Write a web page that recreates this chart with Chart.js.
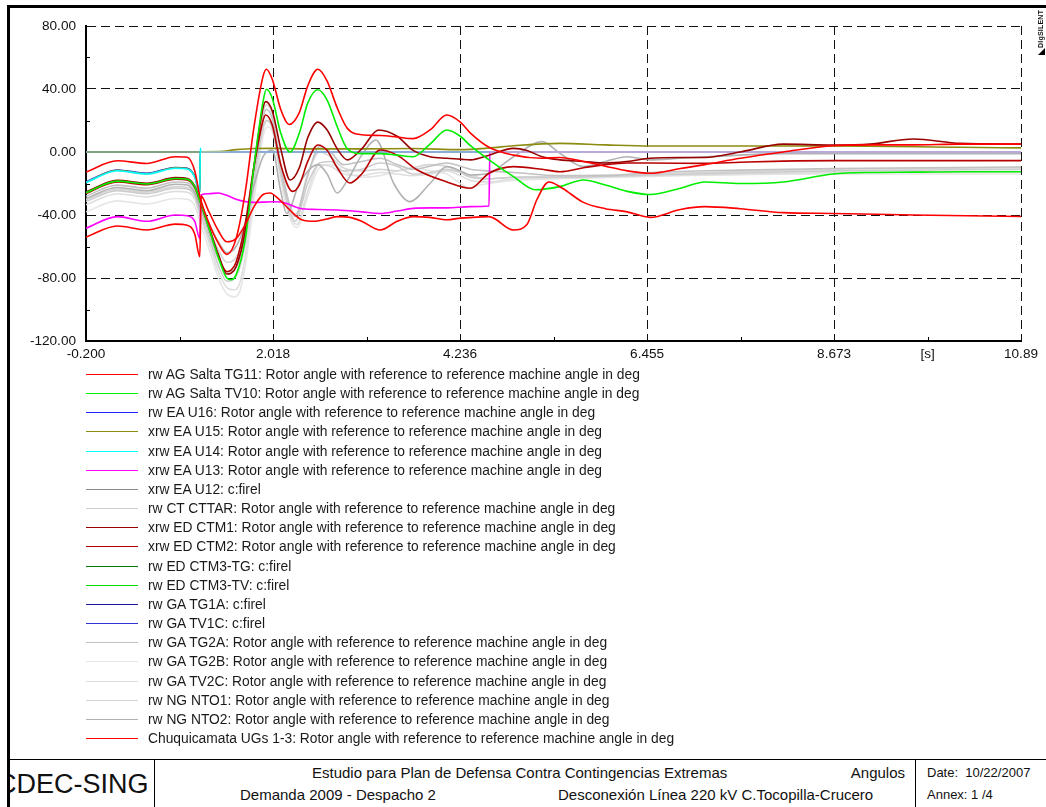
<!DOCTYPE html>
<html>
<head>
<meta charset="utf-8">
<title>Angulos</title>
<script src="https://cdn.jsdelivr.net/npm/chart.js@4.4.1/dist/chart.umd.min.js"></script>
<style>
html,body{margin:0;padding:0;background:#fff;}
body{width:1046px;height:807px;position:relative;overflow:hidden;font-family:"Liberation Sans",Arial,Helvetica,sans-serif;color:#111;}
#plot{position:absolute;left:0;top:0;}
.frameL{position:absolute;left:7px;top:5px;width:3px;height:802px;background:#000;z-index:5;}
.frameT{position:absolute;left:7px;top:5px;width:1039px;height:3px;background:#000;z-index:5;}
.logo{position:absolute;left:1037px;top:10px;writing-mode:vertical-rl;transform:rotate(180deg);font-size:7px;font-weight:bold;letter-spacing:0.2px;line-height:8px;}
.logoTri{position:absolute;left:1038px;top:48px;width:0;height:0;border-left:7px solid transparent;border-bottom:7px solid #000;}
.item{position:absolute;left:86px;height:19px;width:700px;}
.item .sw{position:absolute;left:0;top:9px;width:52px;height:1px;}
.item .tx{position:absolute;left:62px;top:0;white-space:nowrap;font-size:13.8px;line-height:19px;color:#1a1a1a;}
.ln{position:absolute;background:#000;}
.tb{position:absolute;white-space:nowrap;line-height:18px;}
.cdec{position:absolute;left:10px;top:760px;width:144px;height:47px;overflow:hidden;}
.cdec span{position:absolute;left:-13px;top:0;font-size:27px;line-height:48px;white-space:nowrap;}
</style>
</head>
<body>
<canvas id="plot" width="1046" height="366"></canvas>
<div id="legend"></div>
<div class="frameL"></div>
<div class="frameT"></div>
<div class="logo">DIgSILENT</div>
<div class="logoTri"></div>

<div class="ln" style="left:10px;top:759px;width:1036px;height:1px;"></div>
<div class="ln" style="left:154px;top:759px;width:1px;height:48px;"></div>
<div class="ln" style="left:915px;top:759px;width:1px;height:48px;"></div>
<div class="cdec"><span>CDEC-SING</span></div>
<div class="tb" style="left:312px;top:764px;font-size:15px;">Estudio para Plan de Defensa Contra Contingencias Extremas</div>
<div class="tb" style="right:141px;top:764px;font-size:15px;">Angulos</div>
<div class="tb" style="left:240px;top:786px;font-size:15px;">Demanda 2009 - Despacho 2</div>
<div class="tb" style="left:558px;top:786px;font-size:15px;">Desconexión Línea 220 kV C.Tocopilla-Crucero</div>
<div class="tb" style="left:927px;top:764px;font-size:13px;">Date:&nbsp; 10/22/2007</div>
<div class="tb" style="left:927px;top:786px;font-size:13px;">Annex: 1 /4</div>

<script>
// Rotor angles [deg] against time [s], one list of [t, angle] pairs per machine.
const saltaTG11 = [[-0.2,-12.7],[0.17,-5.6],[0.52,-7.3],[0.86,-3],[1.0,-3.3],[1.09,-12],[1.15,-28],[1.25,-44],[1.37,-58],[1.47,-65],[1.58,-55],[1.69,-25],[1.79,15],[1.9,48],[1.94,52.5],[2.01,46],[2.11,27],[2.21,17.5],[2.33,25],[2.43,42],[2.55,52.5],[2.66,45],[2.78,28],[2.9,15],[3.07,11],[3.29,10.5],[3.49,9.5],[3.68,8.5],[3.88,14],[4.08,23.5],[4.24,19],[4.36,12],[4.58,3],[4.87,-2],[5.21,-4],[5.42,-3.5],[5.7,-6],[5.96,-9],[6.22,-12],[6.49,-13.5],[6.85,-10.5],[7.14,-8],[7.56,-4],[8.07,0],[8.66,4],[9.1,4.5],[9.61,4.5],[10.17,5],[10.89,5]];
const saltaTV10 = [[-0.2,-25.8],[0.17,-18.5],[0.52,-20.3],[0.86,-16.8],[1.0,-17.3],[1.09,-22],[1.15,-31],[1.25,-47],[1.37,-67],[1.47,-80],[1.52,-81],[1.58,-78],[1.69,-55],[1.79,-10],[1.9,32],[1.94,39.8],[2.01,34],[2.11,12],[2.22,0],[2.33,12],[2.43,31],[2.55,39.5],[2.66,33],[2.78,16],[2.9,2],[3.07,-1],[3.29,-1],[3.49,-2],[3.68,-3],[3.88,5],[4.08,14],[4.24,10],[4.36,4],[4.58,-5],[4.87,-15.6],[5.13,-24],[5.42,-22],[5.7,-17.8],[5.96,-21],[6.22,-25],[6.49,-27],[6.85,-23],[7.14,-19],[7.56,-20],[8.07,-19],[8.66,-14],[9.1,-13],[9.61,-12.8],[10.17,-12.5],[10.89,-12.5]];
const eaU16 = [[-0.2,-19],[0.17,-11.4],[0.52,-13.5],[0.86,-9.8],[1.0,-10.3],[1.09,-15.5],[1.15,-25.5],[1.155,0],[10.89,0]];
const eaU15 = [[-0.2,-19.2],[0.17,-11.6],[0.52,-13.7],[0.86,-10],[1.0,-10.5],[1.09,-15.7],[1.15,-25.7],[1.155,0],[1.37,0.3],[1.58,1.5],[1.79,2.2],[2.01,2.3],[2.43,2],[3.07,2],[3.68,2.2],[4.24,1.5],[4.58,2.5],[4.87,4],[5.42,5.5],[5.96,4.5],[6.49,3.8],[8.66,3.8],[10.17,3],[10.89,2.6]];
const eaU14 = [[-0.2,-19.5],[0.17,-11.9],[0.52,-14],[0.86,-10.3],[1.0,-10.8],[1.09,-16],[1.15,-26],[1.155,2.5],[1.165,0],[10.89,0]];
const eaU13 = [[-0.2,-48.4],[0.17,-41],[0.52,-44],[0.86,-40],[1.0,-40.5],[1.09,-44],[1.15,-55],[1.165,-27.3],[1.25,-26.5],[1.37,-26],[1.47,-27.5],[1.58,-30],[1.69,-31.5],[1.79,-32],[2.01,-31.6],[2.11,-31.7],[2.22,-33.5],[2.33,-35.7],[2.55,-36.5],[2.78,-36.8],[3.07,-38],[3.29,-39],[3.49,-37.5],[3.68,-35.8],[3.88,-35.5],[4.08,-35.5],[4.36,-34.7],[4.58,-34.3],[4.59,0],[10.89,0]];
const eaU12 = [[-0.2,0],[10.89,0]];
const ctCTTAR = [[-0.2,-31.5],[0.17,-24.5],[0.52,-26.5],[0.86,-23],[1.0,-23.5],[1.09,-28],[1.15,-38],[1.25,-53],[1.37,-72],[1.47,-82],[1.58,-79],[1.69,-58],[1.79,-20],[1.9,16],[1.94,20],[2.01,15],[2.11,-14],[2.22,-38],[2.28,-44],[2.43,-20],[2.57,-7],[2.7,-6],[2.85,-12],[3.07,-11],[3.29,-7],[3.49,-9],[3.68,-14],[3.88,-13],[4.08,-11],[4.24,-13],[4.36,-16],[4.58,-17],[4.87,-16],[5.42,-16],[6.49,-14.5],[8.66,-12],[10.89,-11]];
const edCTM1 = [[-0.2,-25.3],[0.17,-18],[0.52,-19.8],[0.86,-16.3],[1.0,-16.8],[1.09,-21.5],[1.15,-30],[1.25,-46],[1.37,-65],[1.47,-77.5],[1.52,-77],[1.58,-73],[1.69,-50],[1.79,-10],[1.9,28],[1.93,32],[2.01,26],[2.11,2],[2.22,-17.8],[2.33,-10],[2.43,9],[2.55,19],[2.66,14],[2.78,2],[2.9,-5],[3.07,2],[3.27,14],[3.49,10],[3.68,1],[3.88,-3],[4.08,-4],[4.24,-4.5],[4.36,-5],[4.58,-2],[4.87,2.3],[5.03,1],[5.21,-3],[5.42,-5],[5.7,-6],[5.96,-7],[6.22,-6],[6.49,-4],[6.85,-3.5],[7.14,-3.5],[7.56,0],[8.07,5],[8.66,4.4],[9.1,5],[9.61,8.3],[10.17,5.5],[10.89,5]];
const edCTM2 = [[-0.2,-26.3],[0.17,-19],[0.52,-20.8],[0.86,-17.3],[1.0,-17.8],[1.09,-22.5],[1.15,-31],[1.25,-47],[1.37,-66],[1.47,-76],[1.52,-75],[1.58,-70],[1.69,-45],[1.79,-10],[1.9,20],[1.93,23.5],[2.01,17],[2.11,-8],[2.25,-25],[2.33,-21],[2.43,-6],[2.55,4.4],[2.66,1],[2.78,-10],[2.93,-19.7],[3.07,-14],[3.29,1.3],[3.49,-2],[3.73,-11.4],[4.08,-19],[4.36,-23],[4.58,-13.5],[4.87,-9.3],[5.21,-11],[5.42,-12.5],[5.7,-10],[5.96,-8],[6.22,-7],[6.49,-7],[7.14,-7.2],[7.56,-6.5],[8.07,-5.8],[8.66,-5.5],[10.89,-5.5]];
const edCTM3TG = [[-0.2,0],[10.89,0]];
const edCTM3TV = [[-0.2,0],[10.89,0]];
const gaTG1A = [[-0.2,0],[10.89,0]];
const gaTV1C = [[-0.2,0],[10.89,0]];
const gaTG2A = [[-0.2,-28],[0.17,-21],[0.52,-23],[0.86,-19],[1.0,-19.5],[1.09,-24],[1.15,-34],[1.25,-50],[1.37,-68],[1.47,-76],[1.58,-73],[1.69,-52],[1.79,-14],[1.9,22],[1.94,27],[2.01,21],[2.11,-10],[2.22,-35],[2.28,-41],[2.43,-15],[2.57,3.4],[2.7,0],[2.85,-8],[3.07,-6],[3.29,-4],[3.49,-8],[3.68,-11],[3.88,-9],[4.08,-7],[4.24,-9],[4.36,-11],[4.58,-12],[4.87,-13],[5.42,-15],[5.96,-15],[6.49,-13],[7.56,-11.5],[8.66,-10.5],[10.89,-9.5]];
const gaTG2B = [[-0.2,-38],[0.17,-31],[0.52,-33],[0.86,-29.5],[1.0,-30],[1.09,-34],[1.15,-44],[1.25,-60],[1.37,-80],[1.47,-90],[1.55,-92],[1.62,-89],[1.69,-72],[1.79,-32],[1.9,10],[1.96,16],[2.03,10],[2.11,-18],[2.22,-42],[2.3,-48],[2.43,-28],[2.57,-10],[2.7,-8],[2.85,-12],[3.07,-16],[3.29,-15],[3.49,-12],[3.68,-10],[3.88,-12],[4.08,-14],[4.24,-20],[4.36,-23],[4.47,-21],[4.58,-20],[4.87,-18],[5.42,-17],[6.49,-15.5],[8.66,-14],[10.89,-14]];
const gaTV2C = [[-0.2,-33.5],[0.17,-26.5],[0.52,-28.5],[0.86,-25],[1.0,-25.5],[1.09,-30],[1.15,-40],[1.25,-56],[1.37,-76],[1.47,-86],[1.55,-87.5],[1.62,-84],[1.69,-66],[1.79,-25],[1.9,14],[1.95,20],[2.03,14],[2.11,-14],[2.22,-40],[2.3,-46],[2.43,-25],[2.57,-8],[2.7,-9],[2.85,-14],[3.07,-15],[3.29,-13],[3.49,-14],[3.68,-15],[3.88,-14],[4.08,-12],[4.24,-15],[4.36,-18],[4.58,-19],[4.87,-17],[5.42,-16.5],[6.49,-15],[8.66,-13],[10.89,-12.5]];
const ngNTO1 = [[-0.2,-30.5],[0.17,-23.5],[0.52,-25.5],[0.86,-22],[1.0,-22.5],[1.09,-27],[1.15,-36],[1.25,-48],[1.37,-62],[1.47,-70],[1.58,-67],[1.69,-48],[1.79,-10],[1.9,25],[1.94,30],[2.01,24],[2.11,-8],[2.22,-34],[2.28,-40],[2.43,-14],[2.57,0],[2.7,-3],[2.85,-10],[3.07,-12],[3.29,-11],[3.49,-12],[3.68,-10],[3.88,-8],[4.08,-9],[4.24,-12],[4.36,-15],[4.58,-17],[4.87,-16],[5.42,-15.5],[6.49,-14],[8.66,-11],[10.89,-10]];
const ngNTO2 = [[-0.2,-29.5],[0.17,-22.5],[0.52,-24.5],[0.86,-20.5],[1.0,-21],[1.09,-26],[1.15,-35],[1.25,-45],[1.37,-57],[1.47,-64],[1.58,-60],[1.69,-45],[1.79,-22],[1.9,-3],[2.01,1.3],[2.11,-25],[2.18,-39],[2.33,-20],[2.55,-8],[2.66,-14],[2.78,-26],[2.9,-18],[3.07,-2],[3.24,7.6],[3.45,-20],[3.64,-31.5],[3.88,-20],[4.08,-9.3],[4.24,-12],[4.36,-14.6],[4.58,-13.5],[4.87,-3],[5.21,6.6],[5.42,-0.8],[5.7,-9.3],[5.96,-6],[6.22,-3],[6.49,-5],[6.85,-4],[7.56,-2],[8.07,-1],[10.89,-1]];
const chuquicamata = [[-0.2,-54],[0.17,-47],[0.52,-49.5],[0.86,-45.8],[1.0,-46.5],[1.09,-52],[1.15,-66.5],[1.165,-28],[1.25,-37],[1.37,-50],[1.47,-57],[1.58,-55],[1.69,-46],[1.79,-35],[1.9,-27],[1.98,-26],[2.11,-31],[2.22,-37],[2.36,-43],[2.52,-44],[2.66,-42.5],[2.78,-41],[2.93,-41.5],[3.07,-44],[3.29,-49.5],[3.49,-44],[3.68,-41],[3.88,-41.5],[4.08,-43],[4.24,-42],[4.58,-41],[4.87,-49.5],[5.03,-46],[5.15,-30],[5.29,-19],[5.45,-23],[5.7,-32],[5.96,-36],[6.22,-38],[6.49,-41.5],[6.85,-36.5],[7.14,-34.7],[7.56,-36],[8.07,-38.5],[8.66,-39],[9.61,-40],[10.89,-41]];

// Axis ticks
const xTickValues = [-0.2, 2.018, 4.236, 6.455, 8.673, 9.782, 10.89];
const xTickLabels = ['-0.200', '2.018', '4.236', '6.455', '8.673', '[s]', '10.89'];
const yTickValues = [-120, -80, -40, 0, 40, 80];
const yTickLabels = ['-120.00', '-80.00', '-40.00', '0.00', '40.00', '80.00'];

const TXT = 'Rotor angle with reference to reference machine angle in deg';
// legend order; "order" sets the stacking of the curves (lower = drawn on top)
const series = [
  { label: 'rw AG Salta TG11: ' + TXT, color: '#ff0000', data: saltaTG11, order: 1 },
  { label: 'rw AG Salta TV10: ' + TXT, color: '#00ee00', data: saltaTV10, order: 3 },
  { label: 'rw EA U16: ' + TXT, color: '#2020ff', data: eaU16, order: 9 },
  { label: 'xrw EA U15: ' + TXT, color: '#8c8c10', data: eaU15, order: 8 },
  { label: 'xrw EA U14: ' + TXT, color: '#00ffff', data: eaU14, order: 7, after: [1.16, '#a6d2d4'] },
  { label: 'xrw EA U13: ' + TXT, color: '#ff00ff', data: eaU13, order: 6, after: [4.585, '#c9a9d9'] },
  { label: 'xrw EA U12: c:firel', color: '#8a8a8a', data: eaU12, order: 10, plotColor: '#ababab' },
  { label: 'rw CT CTTAR: ' + TXT, color: '#cdcdcd', data: ctCTTAR, order: 13 },
  { label: 'xrw ED CTM1: ' + TXT, color: '#990000', data: edCTM1, order: 4 },
  { label: 'xrw ED CTM2: ' + TXT, color: '#b80000', data: edCTM2, order: 5 },
  { label: 'rw ED CTM3-TG: c:firel', color: '#007a00', data: edCTM3TG, order: 17 },
  { label: 'rw ED CTM3-TV: c:firel', color: '#00dd00', data: edCTM3TV, order: 18 },
  { label: 'rw GA TG1A: c:firel', color: '#1a1a99', data: gaTG1A, order: 19 },
  { label: 'rw GA TV1C: c:firel', color: '#3333dd', data: gaTV1C, order: 20 },
  { label: 'rw GA TG2A: ' + TXT, color: '#c2c2c2', data: gaTG2A, order: 12 },
  { label: 'rw GA TG2B: ' + TXT, color: '#e6e6e6', data: gaTG2B, order: 16 },
  { label: 'rw GA TV2C: ' + TXT, color: '#dedede', data: gaTV2C, order: 15 },
  { label: 'rw NG NTO1: ' + TXT, color: '#d6d6d6', data: ngNTO1, order: 14 },
  { label: 'rw NG NTO2: ' + TXT, color: '#b2b2b2', data: ngNTO2, order: 11 },
  { label: 'Chuquicamata UGs 1-3: ' + TXT, color: '#ff0000', data: chuquicamata, order: 2 }
];

const datasets = series.map(s => {
  const c = s.plotColor || s.color;
  const ds = {
    label: s.label,
    data: s.data.map(([x, y]) => ({ x, y })),
    borderColor: c,
    backgroundColor: c,
    borderWidth: 1.6,
    pointRadius: 0,
    fill: false,
    cubicInterpolationMode: 'monotone',
    order: s.order
  };
  if (s.after) {
    const [t0, col] = s.after;
    ds.segment = { borderColor: ctx => (ctx.p0.parsed.x >= t0 ? col : undefined) };
  }
  return ds;
});

// small inner tick marks halfway between the labelled ticks
const innerTicks = {
  id: 'innerTicks',
  afterDraw(chart) {
    const { ctx, scales: { x, y }, chartArea: a } = chart;
    const xm = xTickValues.filter((v, i) => xTickLabels[i] !== '[s]');
    ctx.save();
    ctx.strokeStyle = '#000';
    ctx.lineWidth = 1;
    ctx.beginPath();
    for (let i = 0; i < xm.length - 1; i++) {
      const px = Math.round(x.getPixelForValue((xm[i] + xm[i + 1]) / 2)) + 0.5;
      ctx.moveTo(px, a.bottom);
      ctx.lineTo(px, a.bottom - 4);
    }
    for (let i = 0; i < yTickValues.length - 1; i++) {
      const py = Math.round(y.getPixelForValue((yTickValues[i] + yTickValues[i + 1]) / 2)) + 0.5;
      ctx.moveTo(a.left, py);
      ctx.lineTo(a.left + 4, py);
    }
    ctx.stroke();
    ctx.restore();
  }
};

const FONT = { family: '"Liberation Sans", Arial, Helvetica, sans-serif', size: 13.6 };

new Chart(document.getElementById('plot'), {
  type: 'line',
  data: { datasets },
  options: {
    responsive: false,
    animation: false,
    events: [],
    layout: { padding: { left: 0, top: 26, right: 25, bottom: 0 } },
    plugins: { legend: { display: false }, tooltip: { enabled: false } },
    scales: {
      x: {
        type: 'linear',
        min: -0.2,
        max: 10.89,
        afterBuildTicks: s => { s.ticks = xTickValues.map(v => ({ value: v })); },
        afterFit: s => { s.height = 25; },
        ticks: {
          autoSkip: false, maxRotation: 0, minRotation: 0, padding: 5,
          color: '#111', font: FONT,
          callback: (v, i) => xTickLabels[i]
        },
        grid: {
          drawTicks: false,
          color: c => (c.tick && xTickLabels[c.index] === '[s]' ? 'rgba(0,0,0,0)' : '#111'),
          lineWidth: 1
        },
        border: { display: true, color: '#000', width: 2, dash: [9, 5] }
      },
      y: {
        type: 'linear',
        min: -120,
        max: 80,
        afterBuildTicks: s => { s.ticks = yTickValues.map(v => ({ value: v })); },
        afterFit: s => { s.width = 86; },
        ticks: {
          autoSkip: false, padding: 10, color: '#111', font: FONT,
          callback: (v, i) => yTickLabels[i]
        },
        grid: { drawTicks: false, color: '#111', lineWidth: 1 },
        border: { display: true, color: '#000', width: 2, dash: [9, 5] }
      }
    }
  },
  plugins: [innerTicks]
});

// legend list under the plot, one row per curve, in series order
const legend = document.getElementById('legend');
series.forEach((s, i) => {
  const row = document.createElement('div');
  row.className = 'item';
  row.style.top = (Math.round(374 + i * 19.16) - 9) + 'px';
  const sw = document.createElement('div');
  sw.className = 'sw';
  sw.style.background = s.color;
  const tx = document.createElement('div');
  tx.className = 'tx';
  tx.textContent = s.label;
  row.appendChild(sw);
  row.appendChild(tx);
  legend.appendChild(row);
});
</script>
</body>
</html>
